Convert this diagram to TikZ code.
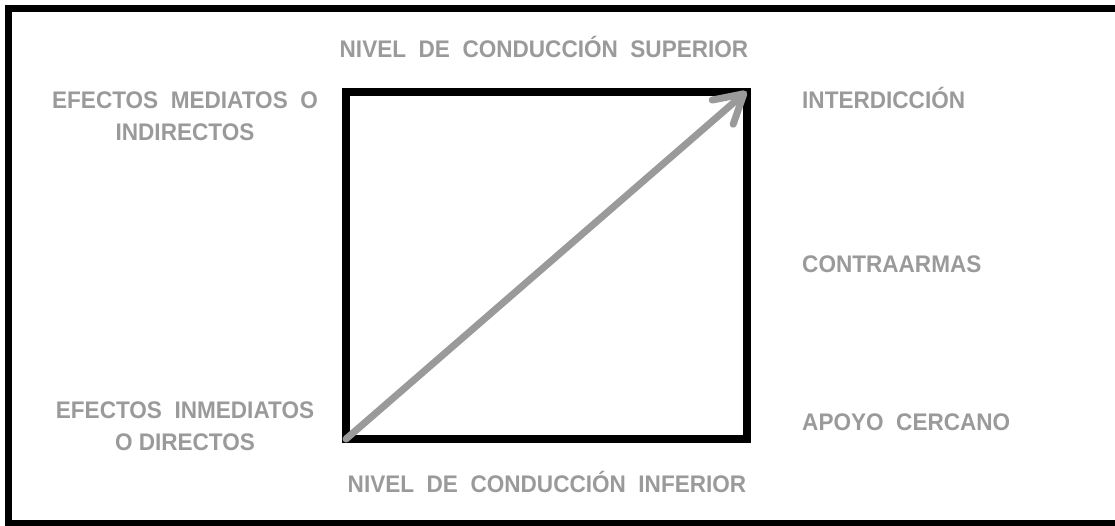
\documentclass[tikz,border=0pt]{standalone}
\usepackage{fontspec}
\setmainfont[FakeStretch=0.94]{Liberation Sans}
\usetikzlibrary{arrows.meta}
\definecolor{labelgray}{HTML}{9A9A9A}

\begin{document}
\begin{tikzpicture}[x=1pt, y=-1pt,
    lbl/.style={text=labelgray, font=\bfseries\fontsize{24}{32}\selectfont, inner sep=0pt, anchor=base},
    frame/.style={line width=7pt},
    box/.style={line width=8pt},
    diag/.style={labelgray, line width=7pt, line cap=round,
      -{Straight Barb[length=28pt, width=32pt, line width=7pt, round]}}]
      \useasboundingbox (0,0) rectangle (1115,525);
      \draw[frame] (8.5,8.5) rectangle (1135,523.5);

      \coordinate (sw) at (346,439);
      \coordinate (ne) at (746.5,91.5);
      \draw[box] (sw) rectangle (ne);
      \draw[diag] (sw) -- (ne);

      \node[lbl] (sup) at (544,57) {NIVEL\ \ DE\ \ CONDUCCIÓN\ \ SUPERIOR};
      \node[lbl] (inf) at (547,492) {NIVEL\ \ DE\ \ CONDUCCIÓN\ \ INFERIOR};

      \node[lbl, align=center] (med) at (185,140) {EFECTOS\ \ MEDIATOS\ \ O\\INDIRECTOS};
      \node[lbl, align=center] (inm) at (185,450) {EFECTOS\ \ INMEDIATOS\\O DIRECTOS};

      \node[lbl, anchor=base west] (inter) at (802,108) {INTERDICCIÓN};
      \node[lbl, anchor=base west] (contra) at (802,272) {CONTRAARMAS};
      \node[lbl, anchor=base west] (apoyo) at (802,430) {APOYO\ \ CERCANO};
    \end{tikzpicture}
\end{document}
